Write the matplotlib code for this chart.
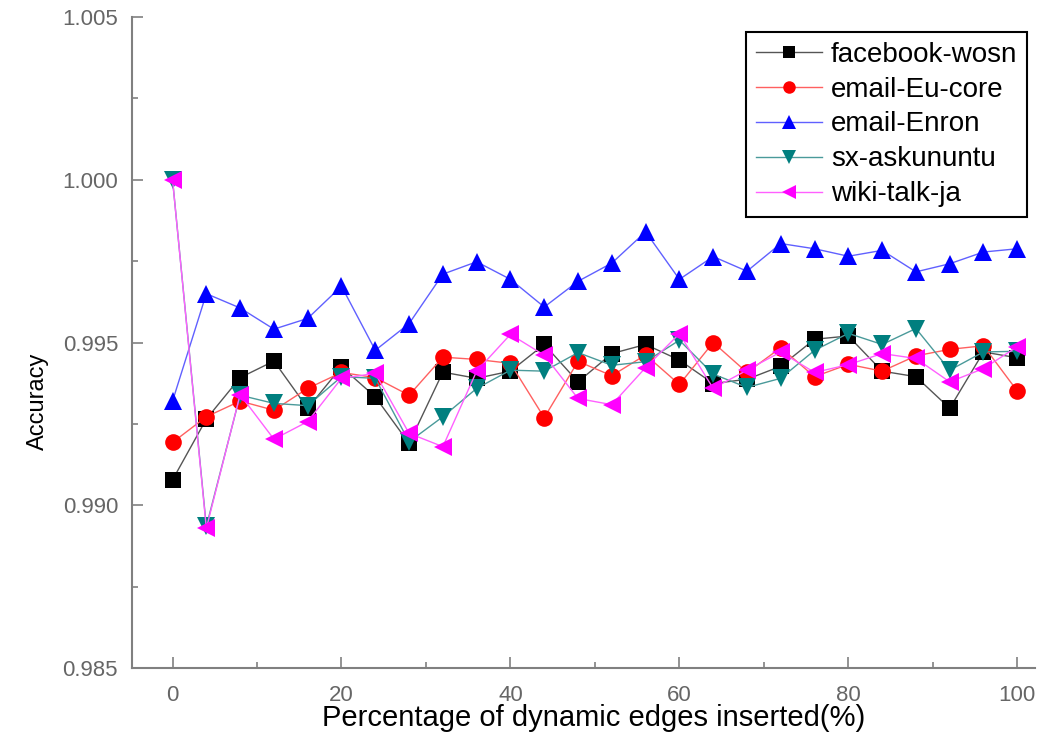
import matplotlib
matplotlib.use("Agg")
import matplotlib.pyplot as plt
from matplotlib.ticker import MultipleLocator

plt.rcParams['font.family'] = ['Liberation Sans', 'DejaVu Sans']

# ----------------------------
# Data
# ----------------------------
pct = [0, 4, 8, 12, 16, 20, 24, 28, 32, 36, 40, 44, 48, 52, 56, 60,
       64, 68, 72, 76, 80, 84, 88, 92, 96, 100]

facebook_wosn = [0.99078, 0.99265, 0.99392, 0.99443, 0.99298, 0.99425, 0.99333, 0.99190,
                 0.99409, 0.99390, 0.99412, 0.99494, 0.99379, 0.99466, 0.99494, 0.99446,
                 0.99374, 0.99387, 0.99427, 0.99510, 0.99520, 0.99412, 0.99395, 0.99298,
                 0.99471, 0.99453]
email_eu_core = [0.99193, 0.99272, 0.99320, 0.99292, 0.99359, 0.99408, 0.99392, 0.99338,
                 0.99455, 0.99448, 0.99436, 0.99269, 0.99442, 0.99398, 0.99462, 0.99371,
                 0.99500, 0.99408, 0.99484, 0.99395, 0.99433, 0.99412, 0.99459, 0.99479,
                 0.99490, 0.99351]
email_enron = [0.99320, 0.99650, 0.99606, 0.99541, 0.99574, 0.99673, 0.99476, 0.99558,
               0.99710, 0.99748, 0.99694, 0.99609, 0.99688, 0.99744, 0.99840, 0.99694,
               0.99764, 0.99719, 0.99804, 0.99788, 0.99765, 0.99783, 0.99717, 0.99742,
               0.99778, 0.99788]
sx_askununtu = [1.00000, 0.98935, 0.99338, 0.99313, 0.99306, 0.99395, 0.99390, 0.99195,
                0.99272, 0.99359, 0.99415, 0.99412, 0.99469, 0.99430, 0.99441, 0.99507,
                0.99403, 0.99362, 0.99390, 0.99476, 0.99528, 0.99494, 0.99543, 0.99415,
                0.99471, 0.99473]
wiki_talk_ja = [1.00000, 0.98929, 0.99340, 0.99203, 0.99257, 0.99390, 0.99405, 0.99221,
                0.99180, 0.99412, 0.99525, 0.99461, 0.99328, 0.99309, 0.99423, 0.99527,
                0.99359, 0.99415, 0.99471, 0.99408, 0.99432, 0.99466, 0.99451, 0.99379,
                0.99420, 0.99487]

# name, values, marker colour, line colour (thin lines look lighter), marker, size
series = [
    ("facebook-wosn", facebook_wosn, "black", "#555555", "s", 11),
    ("email-Eu-core", email_eu_core, "red", "#ff6060", "o", 12),
    ("email-Enron", email_enron, "blue", "#6060ff", "^", 13),
    ("sx-askununtu", sx_askununtu, "#007f7f", "#4a9a9a", "v", 13),
    ("wiki-talk-ja", wiki_talk_ja, "magenta", "#ff60ff", "<", 13),
]

# ----------------------------
# Plot
# ----------------------------
fig = plt.figure(figsize=(10.51, 7.55), dpi=100)
ax = fig.add_axes([0.1256, 0.1152, 0.8592, 0.8623])

for name, vals, mcolor, lcolor, marker, ms in series:
    ax.plot(pct, vals, color=lcolor, marker=marker, markersize=ms,
            markerfacecolor=mcolor, markeredgewidth=0, linewidth=1.0, label=name)

ax.set_xlim(-4.8, 102.1)
ax.set_ylim(0.985, 1.005)
ax.xaxis.set_major_locator(MultipleLocator(20))
ax.xaxis.set_minor_locator(MultipleLocator(10))
ax.yaxis.set_major_locator(MultipleLocator(0.005))
ax.yaxis.set_minor_locator(MultipleLocator(0.0025))
ax.yaxis.set_major_formatter(plt.FormatStrFormatter("%.3f"))

for side in ("top", "right"):
    ax.spines[side].set_visible(False)
for side in ("left", "bottom"):
    ax.spines[side].set_color("#808080")
    ax.spines[side].set_linewidth(1.5)

ax.tick_params(which="major", direction="in", length=8, width=1.2,
               color="#808080", labelsize=16, labelcolor="#666666")
ax.tick_params(which="minor", direction="in", length=4, width=1.2, color="#808080")
ax.tick_params(axis="y", pad=10)
ax.tick_params(axis="x", pad=12)

ax.set_xlabel("Percentage of dynamic edges inserted(%)", fontsize=21)
ax.set_ylabel("Accuracy", fontsize=17)
ax.xaxis.set_label_coords(0.511, -0.055)
ax.yaxis.set_label_coords(-0.092, 0.409)

leg = ax.legend(loc="upper right", bbox_to_anchor=(0.991, 0.977), fontsize=20,
                fancybox=False, framealpha=1, edgecolor="black", labelspacing=0.32,
                handlelength=2.4, handletextpad=0.3, borderpad=0.35, markerscale=0.75,
                borderaxespad=0)
leg.get_frame().set_linewidth(1.5)

fig.savefig("out.png", dpi=100)
